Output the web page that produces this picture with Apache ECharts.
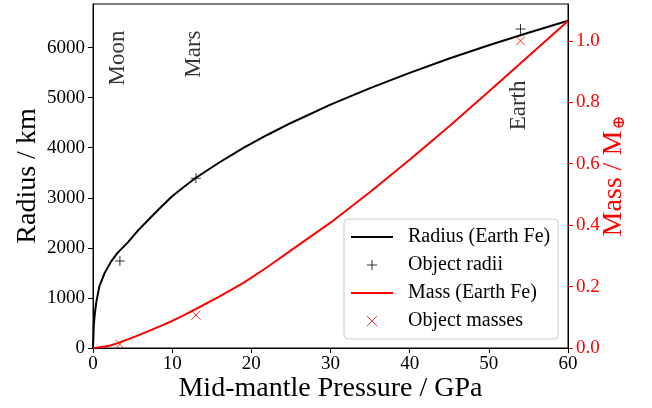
<!DOCTYPE html>
<html>
<head>
<meta charset="utf-8">
<script src="https://cdn.jsdelivr.net/npm/echarts@6/dist/echarts.min.js"></script>
<style>
  html, body { margin: 0; padding: 0; background: #fff; }
  #chart { width: 652px; height: 408px; }
</style>
</head>
<body>
<div id="chart"></div>
<script>
// Mid-mantle pressure (GPa) sample points of the Earth-Fe model curves
const curvePressure = [0, 0.1, 0.2, 0.4, 0.8, 1.5, 2.3, 3.1, 4.4, 5.7, 7, 8.5, 10, 11.5, 13, 16, 19, 22, 25, 30, 35, 40, 45, 50, 55, 60];
// Radius (km) of the Earth-Fe model
const radiusCurve = [0, 450, 640, 900, 1230, 1510, 1730, 1900, 2110, 2350, 2560, 2800, 3030, 3220, 3400, 3710, 3998, 4254, 4494, 4859, 5189, 5494, 5781, 6046, 6296, 6535];
// Mass (Earth masses) of the Earth-Fe model
const massCurve = [0, 0.0003, 0.0006, 0.0012, 0.0025, 0.005, 0.009, 0.016, 0.028, 0.041, 0.055, 0.071, 0.088, 0.107, 0.127, 0.168, 0.212, 0.263, 0.318, 0.408, 0.508, 0.613, 0.722, 0.835, 0.95, 1.065];

// Known objects
const objectNames = ['Moon', 'Mars', 'Earth'];
const objectPressure = [3.4, 13, 54];
const objectRadius = [1737, 3390, 6371];
const objectMass = [0.0123, 0.107, 1.0];

// Annotation anchor heights (km, top of the rotated text)
const labelRadius = [6371, 6371, 5371];

const xTicks = [0, 10, 20, 30, 40, 50, 60];
const radiusTicks = [0, 1000, 2000, 3000, 4000, 5000, 6000];
const massTicks = [0, 0.2, 0.4, 0.6, 0.8, 1.0];

const FONT = 'Liberation Serif';
const RED = '#ff0000';
const plusPath = 'path://M0,5L10,5M5,0L5,10';
const crossPath = 'path://M0,0L10,10M10,0L0,10';
const hiddenSymbol = { color: 'transparent', borderColor: 'transparent', borderWidth: 0, opacity: 0 };

const zip = (a, b) => a.map((v, i) => [v, b[i]]);

const chart = echarts.init(document.getElementById('chart'), null, { renderer: 'canvas' });
chart.setOption({
  animation: false,
  backgroundColor: '#fff',
  textStyle: { fontFamily: FONT },
  grid: {
    left: 93, right: 84, top: 4, bottom: 60, containLabel: false, outerBoundsMode: 'none',
    show: true, borderColor: '#000', borderWidth: 1, backgroundColor: 'transparent'
  },
  legend: {
    data: [
      { name: 'Radius (Earth Fe)', itemStyle: hiddenSymbol },
      { name: 'Object radii', icon: plusPath },
      { name: 'Mass (Earth Fe)', itemStyle: hiddenSymbol },
      { name: 'Object masses', icon: crossPath }
    ],
    orient: 'vertical',
    left: 344, top: 219,
    itemWidth: 42, itemHeight: 10, itemGap: 8,
    padding: [8, 8, 8, 6],
    backgroundColor: 'rgba(255,255,255,0.8)',
    borderColor: '#cccccc', borderWidth: 1, borderRadius: 4,
    itemStyle: { borderWidth: 1 },
    textStyle: { fontFamily: FONT, fontSize: 20, color: '#000', padding: [0, 0, 0, 10] },
    selectedMode: false
  },
  xAxis: {
    type: 'value', min: 0, max: 60, interval: 10,
    name: 'Mid-mantle Pressure / GPa', nameLocation: 'middle', nameGap: 27, nameMoveOverlap: false,
    nameTextStyle: { fontFamily: FONT, fontSize: 28, color: '#000' },
    axisLine: { show: true, lineStyle: { color: '#000', width: 1 } },
    axisTick: { show: true, length: 5, lineStyle: { color: '#000', width: 1 } },
    axisLabel: { fontFamily: FONT, fontSize: 19, color: '#000', margin: 7, customValues: xTicks, formatter: v => String(v) },
    splitLine: { show: false }
  },
  yAxis: [
    {
      type: 'value', min: 0, max: 6870, position: 'left',
      name: 'Radius / km', nameLocation: 'middle', nameRotate: 90, nameGap: 51, nameMoveOverlap: false,
      nameTextStyle: { fontFamily: FONT, fontSize: 28, color: '#000' },
      axisLine: { show: true, lineStyle: { color: '#000', width: 1 } },
      axisTick: { show: true, length: 5, lineStyle: { color: '#000', width: 1 }, customValues: radiusTicks },
      axisLabel: { fontFamily: FONT, fontSize: 19, color: '#000', margin: 8, customValues: radiusTicks, formatter: v => String(v) },
      splitLine: { show: false }
    },
    {
      type: 'value', min: 0, max: 1.12, position: 'right',
      name: '{a|Mass / M}{b|⊕}', nameLocation: 'middle', nameRotate: 90, nameGap: 32, nameMoveOverlap: false,
      nameTextStyle: {
        color: RED,
        rich: {
          a: { fontFamily: FONT, fontSize: 28, lineHeight: 28, color: RED, verticalAlign: 'top' },
          b: { fontFamily: 'DejaVu Serif', fontSize: 17, lineHeight: 17, color: RED, verticalAlign: 'bottom', padding: [22, 0, 0, 1] }
        }
      },
      axisLine: { show: true, lineStyle: { color: '#000', width: 1 } },
      axisTick: { show: true, length: 5, lineStyle: { color: RED, width: 1 }, customValues: massTicks },
      axisLabel: { fontFamily: FONT, fontSize: 19, color: RED, margin: 8, customValues: massTicks, formatter: v => v.toFixed(1) },
      splitLine: { show: false }
    }
  ],
  series: [
    {
      name: 'Radius (Earth Fe)', type: 'line', yAxisIndex: 0,
      data: zip(curvePressure, radiusCurve), symbol: 'none', showSymbol: false, smooth: false,
      lineStyle: { color: '#000', width: 2 }, itemStyle: { color: '#000' }, z: 3
    },
    {
      name: 'Object radii', type: 'scatter', yAxisIndex: 0,
      data: zip(objectPressure, objectRadius), symbol: plusPath, symbolSize: 10,
      itemStyle: { color: 'transparent', borderColor: '#000', borderWidth: 1 }, z: 4
    },
    {
      name: 'Mass (Earth Fe)', type: 'line', yAxisIndex: 1,
      data: zip(curvePressure, massCurve), symbol: 'none', showSymbol: false, smooth: false,
      lineStyle: { color: RED, width: 2 }, itemStyle: { color: RED }, z: 3
    },
    {
      name: 'Object masses', type: 'scatter', yAxisIndex: 1,
      data: zip(objectPressure, objectMass), symbol: crossPath, symbolSize: 9,
      itemStyle: { color: 'transparent', borderColor: RED, borderWidth: 1 }, z: 4
    },
    {
      name: 'annotations', type: 'scatter', yAxisIndex: 0, silent: true,
      data: objectNames.map((n, i) => ({ name: n, value: [objectPressure[i], labelRadius[i]] })),
      symbolSize: 1, itemStyle: { color: 'transparent' },
      label: {
        show: true, formatter: '{b}', rotate: 90, position: [-1, 2],
        align: 'right', verticalAlign: 'middle',
        fontFamily: FONT, fontSize: 23, color: '#000'
      }, z: 5
    }
  ]
});
</script>
</body>
</html>
